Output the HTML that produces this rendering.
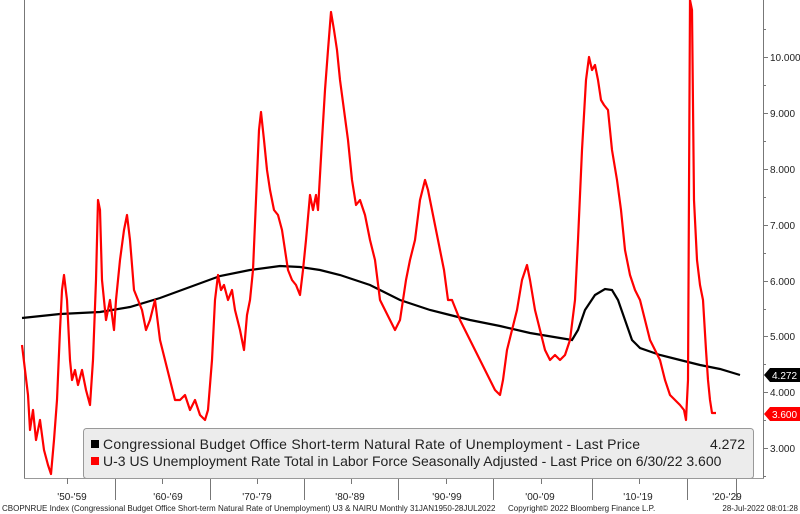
<!DOCTYPE html>
<html><head><style>
body{margin:0;background:#fff;}
svg{display:block;font-family:"Liberation Sans",sans-serif;}
</style></head><body>
<svg width="800" height="514" viewBox="0 0 800 514">
<rect width="800" height="514" fill="#fff"/>
<line x1="24.5" y1="0" x2="24.5" y2="478" stroke="#777" stroke-width="1"/>
<line x1="763.5" y1="0" x2="763.5" y2="478" stroke="#777"/>
<line x1="24" y1="478.5" x2="764" y2="478.5" stroke="#999"/>
<g stroke="#777">
<line x1="115.5" y1="478" x2="115.5" y2="500"/><line x1="210.5" y1="478" x2="210.5" y2="500"/>
<line x1="304.5" y1="478" x2="304.5" y2="500"/><line x1="398.5" y1="478" x2="398.5" y2="500"/>
<line x1="493.5" y1="478" x2="493.5" y2="500"/><line x1="592.5" y1="478" x2="592.5" y2="500"/>
<line x1="687.5" y1="478" x2="687.5" y2="500"/>
<line x1="67.5" y1="478" x2="67.5" y2="484"/><line x1="162.5" y1="478" x2="162.5" y2="484"/>
<line x1="257.5" y1="478" x2="257.5" y2="484"/><line x1="351.5" y1="478" x2="351.5" y2="484"/>
<line x1="446.5" y1="478" x2="446.5" y2="484"/><line x1="541.5" y1="478" x2="541.5" y2="484"/>
<line x1="639.5" y1="478" x2="639.5" y2="484"/><line x1="736.5" y1="478" x2="736.5" y2="500"/>
<line x1="763" y1="57.5" x2="768" y2="57.5"/><line x1="763" y1="113.5" x2="768" y2="113.5"/>
<line x1="763" y1="169.5" x2="768" y2="169.5"/><line x1="763" y1="225.5" x2="768" y2="225.5"/>
<line x1="763" y1="281.5" x2="768" y2="281.5"/><line x1="763" y1="336.5" x2="768" y2="336.5"/>
<line x1="763" y1="392.5" x2="768" y2="392.5"/><line x1="763" y1="448.5" x2="768" y2="448.5"/>
<line x1="763" y1="29.5" x2="766" y2="29.5"/><line x1="763" y1="85.5" x2="766" y2="85.5"/>
<line x1="763" y1="141.5" x2="766" y2="141.5"/><line x1="763" y1="197.5" x2="766" y2="197.5"/>
<line x1="763" y1="253.5" x2="766" y2="253.5"/><line x1="763" y1="309.5" x2="766" y2="309.5"/>
<line x1="763" y1="364.5" x2="766" y2="364.5"/><line x1="763" y1="420.5" x2="766" y2="420.5"/>
<line x1="763" y1="476.5" x2="766" y2="476.5"/>
</g>
<g font-size="10" fill="#222">
<text x="770" y="61">10.000</text><text x="770" y="117">9.000</text><text x="770" y="173">8.000</text>
<text x="770" y="229">7.000</text><text x="770" y="285">6.000</text><text x="770" y="340">5.000</text>
<text x="770" y="396">4.000</text><text x="770" y="452">3.000</text>
</g>
<g font-size="10" fill="#222" text-anchor="middle">
<text x="72" y="500">'50-'59</text><text x="168" y="500">'60-'69</text><text x="257" y="500">'70-'79</text>
<text x="350" y="500">'80-'89</text><text x="447" y="500">'90-'99</text><text x="540" y="500">'00-'09</text>
<text x="638" y="500">'10-'19</text><text x="727" y="500">'20-'29</text>
</g>
<polyline fill="none" stroke="#000" stroke-width="2.2" points="22,318 60,314 100,312 130,307 160,298 190,287 220,276 250,270 280,266 300,267 320,270 340,275 370,285 400,300 430,310 450,315 470,320 500,326 530,333 560,338 572,340 578,330 585,310 595,295 605,289 612,290 618,300 625,320 632,340 640,348 660,355 680,360 700,365 720,369 740,375"/>
<polyline fill="none" stroke="#f00" stroke-width="2.2" stroke-linejoin="round" points="22,345 25,370 28,395 30,430 33,410 36,440 40,420 44,450 48,465 51,474 54,440 57,400 60,330 62,290 64,275 67,300 70,360 72,380 75,370 78,385 82,370 86,390 90,405 93,360 96,280 98,200 100,210 102,280 104,300 106,320 110,300 114,330 116,300 120,260 124,230 127,215 130,240 134,290 138,300 142,310 146,330 150,320 155,300 160,340 165,360 170,380 175,400 180,400 185,395 190,410 195,400 200,415 205,420 208,410 212,360 215,300 218,275 221,290 224,285 228,300 232,290 235,310 240,330 244,350 247,315 250,300 253,270 256,200 259,130 261,112 264,140 267,170 270,190 274,210 278,215 282,230 285,250 288,270 292,280 296,285 300,295 303,270 306,240 310,195 313,210 316,195 318,210 320,175 322,140 325,90 328,50 331,12 334,30 337,50 340,80 344,110 348,140 352,180 356,205 360,200 365,215 370,240 375,260 380,300 385,310 390,320 395,330 400,320 403,300 406,280 410,260 415,240 420,200 425,180 428,190 432,210 436,230 440,250 444,270 448,300 452,300 456,310 460,320 465,330 470,340 475,350 480,360 485,370 490,380 495,390 500,395 503,380 507,350 512,330 517,310 522,280 527,265 530,280 535,310 540,330 545,350 550,360 555,355 560,360 565,355 570,340 575,300 578,240 582,150 586,80 589,57 592,70 595,65 598,80 601,100 604,105 608,110 612,150 617,180 621,210 625,250 630,275 635,290 640,300 645,320 650,340 655,350 660,360 665,380 670,395 675,400 680,405 684,410 686,420 688,380 690,0 692,10 694,200 697,260 700,285 703,300 706,350 708,380 710,400 712,413 716,413"/>
<polygon points="764,375 770,368 800,368 800,382 770,382" fill="#000"/>
<text x="772" y="379" font-size="10" fill="#fff">4.272</text>
<polygon points="764,414 770,407 800,407 800,421 770,421" fill="#f00"/>
<text x="772" y="418" font-size="10" fill="#fff">3.600</text>
<rect x="83.5" y="428.5" width="670" height="50" rx="3" fill="#ececec" stroke="#999"/>
<rect x="91" y="440" width="8" height="8" fill="#000"/>
<rect x="91" y="457" width="8" height="8" fill="#f00"/>
<g font-size="14" fill="#222">
<text x="103" y="449" textLength="537" lengthAdjust="spacing">Congressional Budget Office Short-term Natural Rate of Unemployment - Last Price</text>
<text x="745" y="449" text-anchor="end">4.272</text>
<text x="103" y="466">U-3 US Unemployment Rate Total in Labor Force Seasonally Adjusted - Last Price on 6/30/22 3.600</text>
</g>
<g font-size="8" fill="#222">
<text x="2" y="511">CBOPNRUE Index (Congressional Budget Office Short-term Natural Rate of Unemployment) U3 &amp; NAIRU  Monthly 31JAN1950-28JUL2022</text>
<text x="508" y="511">Copyright© 2022 Bloomberg Finance L.P.</text>
<text x="798" y="511" text-anchor="end">28-Jul-2022 08:01:28</text>
</g>
</svg>
</body></html>
